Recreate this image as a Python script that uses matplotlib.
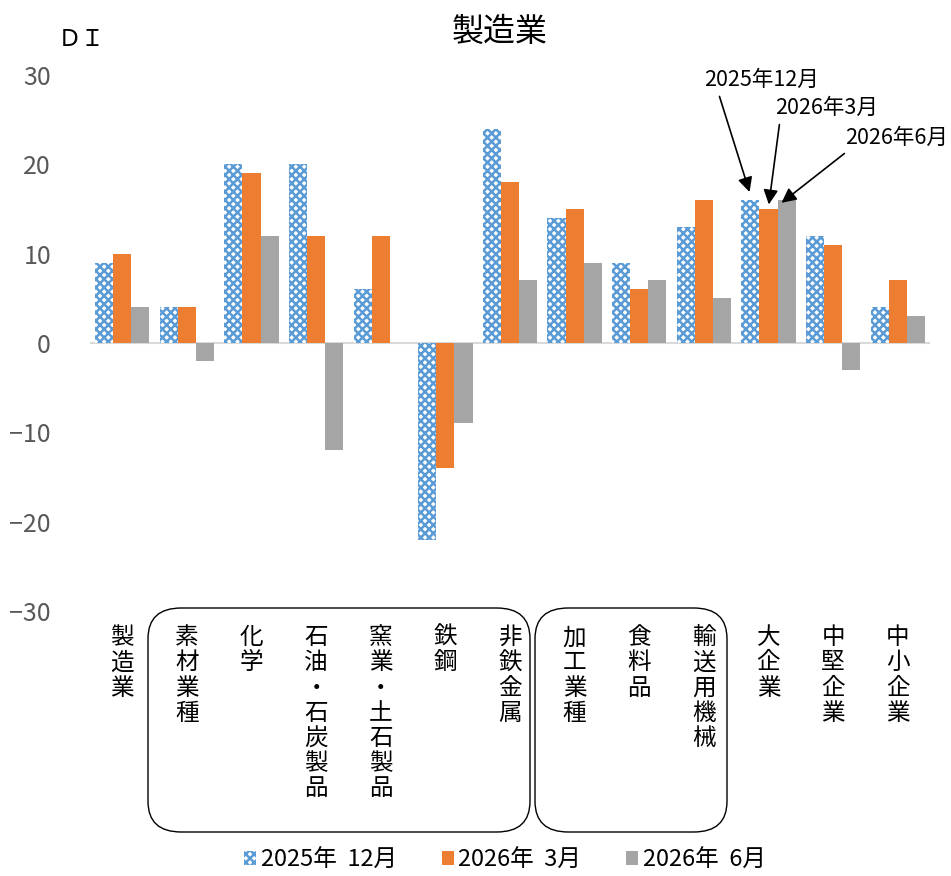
import numpy as np
import matplotlib
matplotlib.use("Agg")
import matplotlib.pyplot as plt
from matplotlib.patches import FancyBboxPatch

plt.rcParams['font.family'] = ['Noto Sans CJK JP', 'DejaVu Sans']
plt.rcParams['hatch.linewidth'] = 1.8

categories = ['製造業', '素材業種', '化学', '石油・石炭製品', '窯業・土石製品', '鉄鋼',
              '非鉄金属', '加工業種', '食料品', '輸送用機械', '大企業', '中堅企業', '中小企業']
dec_2025 = [9, 4, 20, 20, 6, -22, 24, 14, 9, 13, 16, 12, 4]
mar_2026 = [10, 4, 19, 12, 12, -14, 18, 15, 6, 16, 15, 11, 7]
jun_2026 = [4, -2, 12, -12, 0, -9, 7, 9, 7, 5, 16, -3, 3]
series_labels = ['2025年  12月', '2026年  3月', '2026年  6月']
yticks = [30, 20, 10, 0, -10, -20, -30]

W, H = 951, 876
fig = plt.figure(figsize=(W / 100, H / 100), dpi=100)
ax = fig.add_axes([90 / W, 1 - 611 / H, 840 / W, (611 - 75) / H])

x = np.arange(len(categories))
w = 0.28
b1 = ax.bar(x - w, dec_2025, w, facecolor='white', edgecolor='#5B9BD5',
            hatch='xxxx', linewidth=0, label=series_labels[0])
b2 = ax.bar(x, mar_2026, w, color='#ED7D31', label=series_labels[1])
b3 = ax.bar(x + w, jun_2026, w, color='#A5A5A5', label=series_labels[2])

ax.axhline(0, color='#D9D9D9', linewidth=1.5, zorder=0)
ax.set_xlim(-0.5, len(categories) - 0.5)
ax.set_ylim(-30, 30)
ax.set_yticks(yticks)
ax.set_yticklabels([str(v) if v >= 0 else '\u2212' + str(-v) for v in yticks])
ax.tick_params(axis='y', length=0, pad=28, labelsize=18, labelcolor='#595959')
ax.set_xticks([])
for s in ax.spines.values():
    s.set_visible(False)

# vertical category labels
for i, c in enumerate(categories):
    ax.text(i, -31.7, '\n'.join(c), ha='center', va='top',
            fontsize=17, linespacing=1.12, clip_on=False)

# rounded group boxes
for x0, x1 in [(148, 530), (535, 727)]:
    box = FancyBboxPatch((x0 / W, 44 / H), (x1 - x0) / W, (832 - 608) / H,
                         boxstyle='round,pad=0,rounding_size=0.035',
                         transform=fig.transFigure, facecolor='none',
                         edgecolor='black', linewidth=1.0)
    fig.patches.append(box)

fig.text(500 / W, 1 - 32 / H, '製造業', ha='center', va='center', fontsize=23)
fig.text(58 / W, 1 - 40 / H, 'ＤＩ', ha='left', va='center', fontsize=17)

# arrows pointing at 大企業
k = categories.index('大企業')
arrow = dict(arrowstyle='-|>', color='black', linewidth=1.2, mutation_scale=22)
ax.annotate('2025年12月', xy=(k - w, dec_2025[k] + 0.6), xytext=(704 / W, 1 - 80 / H),
            textcoords='figure fraction', ha='left', va='center', fontsize=15.5,
            arrowprops=dict(arrow, relpos=(0.12, 0)))
ax.annotate('2026年3月', xy=(k, mar_2026[k] + 0.2), xytext=(775 / W, 1 - 108 / H),
            textcoords='figure fraction', ha='left', va='center', fontsize=15.5,
            arrowprops=dict(arrow, relpos=(0.05, 0)))
ax.annotate('2026年6月', xy=(k + w * 0.6, jun_2026[k] - 0.5), xytext=(845 / W, 1 - 138 / H),
            textcoords='figure fraction', ha='left', va='center', fontsize=15.5,
            arrowprops=dict(arrow, relpos=(0.05, 0)))

fig.legend(handles=[b1, b2, b3], labels=series_labels, loc='center',
           bbox_to_anchor=(505 / W, 1 - 860 / H), ncol=3, frameon=False,
           fontsize=17, handlelength=0.5, handleheight=0.5, handletextpad=0.2,
           columnspacing=1.9)

fig.savefig('out.png', dpi=100)
